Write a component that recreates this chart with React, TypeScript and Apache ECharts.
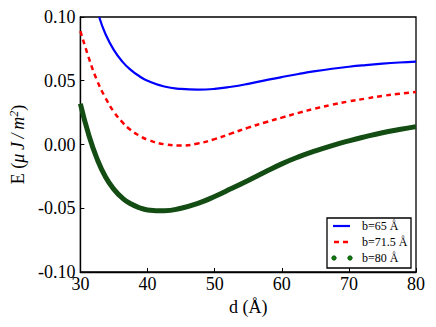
import React, { useEffect, useRef } from "react";
import * as echarts from "echarts";

const xTicks = [30, 40, 50, 60, 70, 80];
const yTicks = [-0.1, -0.05, 0, 0.05, 0.1];

const seriesNames = ["b=65 Å", "b=71.5 Å", "b=80 Å"];

const blueD = [32.8, 33.75, 35, 36.25, 37.5, 38.75, 40, 42.5, 45, 47.5, 50, 52.5, 55, 57.5, 60, 62.5, 65, 67.5, 70, 72.5, 75, 77.5, 80];
const blueE = [0.1, 0.0865, 0.074, 0.065, 0.0585, 0.0537, 0.05, 0.0455, 0.0436, 0.043, 0.0436, 0.0453, 0.0476, 0.0503, 0.0529, 0.0553, 0.0575, 0.0594, 0.061, 0.0623, 0.0634, 0.0643, 0.065];

const redD = [30, 31.25, 32.5, 33.75, 35, 36.25, 37.5, 38.75, 40, 42.5, 45, 47.5, 50, 52.5, 55, 57.5, 60, 62.5, 65, 67.5, 70, 72.5, 75, 77.5, 80];
const redE = [0.089, 0.068, 0.05, 0.0365, 0.0255, 0.0175, 0.0113, 0.007, 0.0038, 0.0002, -0.0008, 0.0008, 0.0042, 0.0087, 0.0132, 0.0173, 0.0211, 0.0248, 0.0282, 0.0312, 0.0338, 0.036, 0.0381, 0.0398, 0.0412];

const greenD = [30, 31.25, 32.5, 33.75, 35, 36.25, 37.5, 38.75, 40, 42.5, 45, 47.5, 50, 52.5, 55, 57.5, 60, 62.5, 65, 67.5, 70, 72.5, 75, 77.5, 80];
const greenE = [0.032, 0.0075, -0.0115, -0.0255, -0.0352, -0.042, -0.0465, -0.0495, -0.0513, -0.052, -0.05, -0.0462, -0.0408, -0.0346, -0.0282, -0.0216, -0.0152, -0.0097, -0.005, -0.0008, 0.0029, 0.0062, 0.0092, 0.0117, 0.014];

const FONT = "'Liberation Serif', 'DejaVu Serif', serif";

function pairs(xs: number[], ys: number[]) {
  return xs.map((x, i) => [x, ys[i]]);
}

export default function App() {
  const ref = useRef<HTMLDivElement>(null);
  useEffect(() => {
    if (!ref.current) return;
    const chart = echarts.init(ref.current, null, { renderer: "svg" });
    const lx = 327;
    const ly = 218;
    chart.setOption({
      animation: false,
      backgroundColor: "#fff",
      grid: {
        left: 79,
        right: 20,
        top: 17,
        bottom: 55,
        show: true,
        borderColor: "#000",
        borderWidth: 1.3,
        backgroundColor: "transparent",
      },
      xAxis: {
        type: "value",
        min: xTicks[0],
        max: xTicks[xTicks.length - 1],
        interval: 10,
        name: "d (Å)",
        nameLocation: "middle",
        nameGap: 24,
        nameTextStyle: { fontFamily: FONT, fontSize: 18, color: "#000" },
        axisLine: { show: true, onZero: false, lineStyle: { color: "#000", width: 1.3 } },
        axisTick: { show: true, inside: true, length: 4, lineStyle: { color: "#000", width: 1 } },
        axisLabel: { margin: 3, fontFamily: FONT, fontSize: 18, color: "#000" },
        splitLine: { show: false },
      },
      yAxis: {
        type: "value",
        min: yTicks[0],
        max: yTicks[yTicks.length - 1],
        interval: 0.05,
        name: "{n|E (}{i|μ\u2009J\u2009/\u2009m}{s|2}{n|)}",
        nameLocation: "middle",
        nameGap: 50,
        nameTextStyle: {
          fontFamily: FONT,
          fontSize: 18,
          color: "#000",
          rich: {
            n: { fontFamily: FONT, fontSize: 18, color: "#000", lineHeight: 20 },
            i: { fontFamily: FONT, fontSize: 18, fontStyle: "italic", color: "#000", lineHeight: 20 },
            s: { fontFamily: FONT, fontSize: 12, fontStyle: "italic", color: "#000", verticalAlign: "top", lineHeight: 20 },
          },
        },
        axisLine: { show: true, onZero: false, lineStyle: { color: "#000", width: 1.3 } },
        axisTick: { show: true, inside: true, length: 4, lineStyle: { color: "#000", width: 1 } },
        axisLabel: {
          margin: 5,
          fontFamily: FONT,
          fontSize: 18,
          color: "#000",
          formatter: (v: number) => (Math.abs(v) < 1e-9 ? "0.00" : v.toFixed(2)),
        },
        splitLine: { show: false },
      },
      series: [
        {
          name: seriesNames[0],
          type: "line",
          data: pairs(blueD, blueE),
          smooth: 0.5,
          symbol: "none",
          lineStyle: { color: "#0000ff", width: 2.2 },
          clip: true,
          z: 3,
        },
        {
          name: seriesNames[1],
          type: "line",
          data: pairs(redD, redE),
          smooth: 0.5,
          symbol: "none",
          lineStyle: { color: "#ff0000", width: 2.5, type: [5, 4] },
          clip: true,
          z: 3,
        },
        {
          name: seriesNames[2],
          type: "line",
          data: pairs(greenD, greenE),
          smooth: 0.5,
          symbol: "none",
          lineStyle: { color: "#134d13", width: 5 },
          clip: true,
          z: 2,
        },
      ],
      graphic: [
        {
          type: "rect",
          shape: { x: lx, y: ly, width: 84, height: 50 },
          style: { fill: "#fff", stroke: "#000", lineWidth: 1.3 },
          z: 100,
        },
        {
          type: "line",
          shape: { x1: lx + 6, y1: ly + 8, x2: lx + 23, y2: ly + 8 },
          style: { stroke: "#0000ff", lineWidth: 2.2 },
          z: 101,
        },
        {
          type: "line",
          shape: { x1: lx + 7, y1: ly + 24, x2: lx + 12, y2: ly + 24 },
          style: { stroke: "#ff0000", lineWidth: 2.5 },
          z: 101,
        },
        {
          type: "line",
          shape: { x1: lx + 16, y1: ly + 24, x2: lx + 21, y2: ly + 24 },
          style: { stroke: "#ff0000", lineWidth: 2.5 },
          z: 101,
        },
        {
          type: "circle",
          shape: { cx: lx + 7, cy: ly + 40, r: 2.3 },
          style: { fill: "#0d7a0d", stroke: "#0a3a0a", lineWidth: 0.6 },
          z: 101,
        },
        {
          type: "circle",
          shape: { cx: lx + 23, cy: ly + 40, r: 2.3 },
          style: { fill: "#0d7a0d", stroke: "#0a3a0a", lineWidth: 0.6 },
          z: 101,
        },
        ...seriesNames.map((t, i) => ({
          type: "text",
          x: lx + 35,
          y: ly + 8 + 16 * i,
          style: {
            text: t,
            fontFamily: FONT,
            fontSize: 12,
            fill: "#000",
            verticalAlign: "middle",
            align: "left",
          },
          z: 101,
        })),
      ],
    });
    return () => chart.dispose();
  }, []);
  return (
    <div
      ref={ref}
      style={{ position: "fixed", left: 0, top: 0, width: 436, height: 327 }}
    />
  );
}
